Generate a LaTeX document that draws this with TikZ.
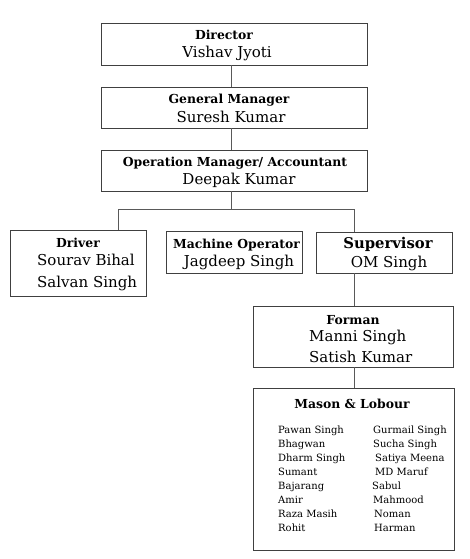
\documentclass[tikz,border=0pt]{standalone}
\usepackage{fontspec}
\setmainfont{DejaVu Serif}
\begin{document}
\begin{tikzpicture}[x=1pt,y=-1pt,
  box/.style={draw=black!75,line width=0.9pt,rectangle,inner sep=0pt},
  link/.style={draw=black!65,line width=0.9pt},
  ttl/.style={font=\bfseries\fontsize{12.4}{14}\selectfont,inner sep=0pt,anchor=base},
  nm/.style={font=\fontsize{15}{17}\selectfont,inner sep=0pt,anchor=base},
  li/.style={font=\fontsize{10}{12}\selectfont,inner sep=0pt,anchor=base west}]
\useasboundingbox (0,0) rectangle (469,559);
\fill[white] (0,0) rectangle (469,559);
% boxes
\node[box,minimum width=266pt,minimum height=42pt] (dir) at (234,44) {};
\node[box,minimum width=266pt,minimum height=41pt] (gm) at (234,107.5) {};
\node[box,minimum width=266pt,minimum height=41pt] (op) at (234,170.5) {};
\node[box,minimum width=136pt,minimum height=66pt] (drv) at (78,263) {};
\node[box,minimum width=136pt,minimum height=42pt] (mac) at (234,252) {};
\node[box,minimum width=136pt,minimum height=41pt] (sup) at (384,252.5) {};
\node[box,minimum width=200pt,minimum height=61pt] (frm) at (353,336.5) {};
\node[box,minimum width=201pt,minimum height=162pt] (msn) at (353.5,469) {};
% connectors
\coordinate (spine) at (231,0);
\coordinate (lft) at (118,0);
\coordinate (rgt) at (354,0);
\coordinate (bar) at (0,209);
\draw[link] (dir.south -| spine) -- (gm.north -| spine);
\draw[link] (gm.south -| spine) -- (op.north -| spine);
\draw[link] (op.south -| spine) -- (bar -| spine);
\draw[link] (drv.north -| lft) -- (bar -| lft) -- (bar -| rgt) -- (sup.north -| rgt);
\draw[link] (sup.south -| rgt) -- (frm.north -| rgt);
\draw[link] (frm.south -| rgt) -- (msn.north -| rgt);
% texts
\node[ttl] (t1) at (224,39.5) {Director};
\node[nm] (n1) at (227,57.5) {Vishav Jyoti};
\node[ttl] (t2) at (229,103) {General Manager};
\node[nm] (n2) at (231,122) {Suresh Kumar};
\node[ttl] (t3) at (235,166) {Operation Manager/ Accountant};
\node[nm] (n3) at (239,184) {Deepak Kumar};
\node[ttl] (t4) at (78,247) {Driver};
\node[nm,anchor=base west] (n4a) at (37,265) {Sourav Bihal};
\node[nm,anchor=base west] (n4b) at (37,287) {Salvan Singh};
\node[ttl] (t5) at (236.5,248) {Machine Operator};
\node[nm] (n5) at (239,266) {Jagdeep Singh};
\node[ttl,font=\bfseries\fontsize{14.8}{17}\selectfont] (t6) at (388,248) {Supervisor};
\node[nm] (n6) at (389,267) {OM Singh};
\node[ttl] (t7) at (353,324) {Forman};
\node[nm,anchor=base west] (n7a) at (309,341) {Manni Singh};
\node[nm,anchor=base west] (n7b) at (309,362) {Satish Kumar};
\node[ttl] (t8) at (352,408) {Mason \& Lobour};
\node[li] (a1) at (278,433) {Pawan Singh};
\node[li] (a2) at (278,447) {Bhagwan};
\node[li] (a3) at (278,461) {Dharm Singh};
\node[li] (a4) at (278,475) {Sumant};
\node[li] (a5) at (278,489) {Bajarang};
\node[li] (a6) at (278,503) {Amir};
\node[li] (a7) at (278,517) {Raza Masih};
\node[li] (a8) at (278,531) {Rohit};
\node[li] (b1) at (373,433) {Gurmail Singh};
\node[li] (b2) at (373,447) {Sucha Singh};
\node[li] (b3) at (375,461) {Satiya Meena};
\node[li] (b4) at (375,475) {MD Maruf};
\node[li] (b5) at (372,489) {Sabul};
\node[li] (b6) at (373,503) {Mahmood};
\node[li] (b7) at (374,517) {Noman};
\node[li] (b8) at (374,531) {Harman};
\end{tikzpicture}
\end{document}
